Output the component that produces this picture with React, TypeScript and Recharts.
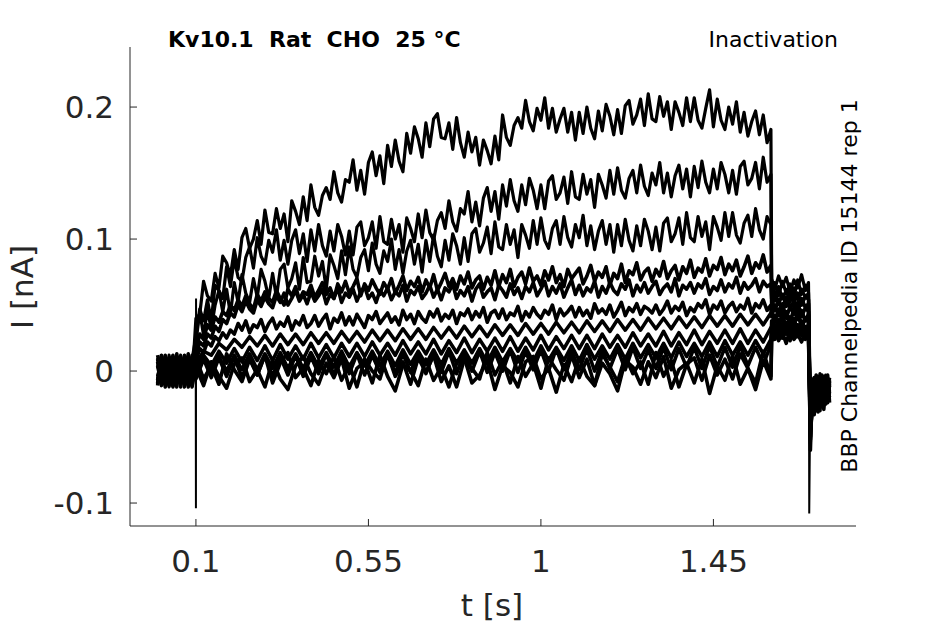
import { LineChart, Line, XAxis, YAxis } from 'recharts';

// time grids (s) for the parts of each sweep
const preT = [0, 0.01, 0.02, 0.03, 0.04, 0.05, 0.06, 0.07, 0.08, 0.09];
// fine grid for the six upper sweeps
const stepFineT = [
  0.1, 0.11, 0.12, 0.13, 0.14, 0.15, 0.16, 0.17, 0.18, 0.19,
  0.2, 0.21, 0.22, 0.23, 0.24, 0.25, 0.26, 0.27, 0.28, 0.29,
  0.3, 0.31, 0.32, 0.33, 0.34, 0.35, 0.36, 0.37, 0.38, 0.39,
  0.4, 0.41, 0.42, 0.43, 0.44, 0.45, 0.46, 0.47, 0.48, 0.49,
  0.5, 0.51, 0.52, 0.53, 0.54, 0.55, 0.56, 0.57, 0.58, 0.59,
  0.6, 0.61, 0.62, 0.63, 0.64, 0.65, 0.66, 0.67, 0.68, 0.69,
  0.7, 0.71, 0.72, 0.73, 0.74, 0.75, 0.76, 0.77, 0.78, 0.79,
  0.8, 0.81, 0.82, 0.83, 0.84, 0.85, 0.86, 0.87, 0.88, 0.89,
  0.9, 0.91, 0.92, 0.93, 0.94, 0.95, 0.96, 0.97, 0.98, 0.99,
  1.0, 1.01, 1.02, 1.03, 1.04, 1.05, 1.06, 1.07, 1.08, 1.09,
  1.1, 1.11, 1.12, 1.13, 1.14, 1.15, 1.16, 1.17, 1.18, 1.19,
  1.2, 1.21, 1.22, 1.23, 1.24, 1.25, 1.26, 1.27, 1.28, 1.29,
  1.3, 1.31, 1.32, 1.33, 1.34, 1.35, 1.36, 1.37, 1.38, 1.39,
  1.4, 1.41, 1.42, 1.43, 1.44, 1.45, 1.46, 1.47, 1.48, 1.49,
  1.5, 1.51, 1.52, 1.53, 1.54, 1.55, 1.56, 1.57, 1.58, 1.59,
  1.6,
];
// coarse grid for the six lower sweeps
const stepT = [
  0.1, 0.12, 0.14, 0.16, 0.18, 0.2, 0.22, 0.24, 0.26, 0.28,
  0.3, 0.32, 0.34, 0.36, 0.38, 0.4, 0.42, 0.44, 0.46, 0.48,
  0.5, 0.52, 0.54, 0.56, 0.58, 0.6, 0.62, 0.64, 0.66, 0.68,
  0.7, 0.72, 0.74, 0.76, 0.78, 0.8, 0.82, 0.84, 0.86, 0.88,
  0.9, 0.92, 0.94, 0.96, 0.98, 1.0, 1.02, 1.04, 1.06, 1.08,
  1.1, 1.12, 1.14, 1.16, 1.18, 1.2, 1.22, 1.24, 1.26, 1.28,
  1.3, 1.32, 1.34, 1.36, 1.38, 1.4, 1.42, 1.44, 1.46, 1.48,
  1.5, 1.52, 1.54, 1.56, 1.58, 1.6,
];
const tailT = [1.602, 1.61, 1.62, 1.63, 1.64, 1.65, 1.66, 1.67, 1.68, 1.69, 1.698];
const postT = [1.703, 1.708, 1.713, 1.718, 1.723, 1.728, 1.733, 1.738, 1.743, 1.748, 1.753];

// currents in pA; rows 0-5 are the upper sweeps, rows 6-11 the lower ones
const preI = [
  [5, -8, 9, -4, 11, -9, 6, -3, 10, -7],
  [-6, 8, -10, 12, -5, 7, -9, 4, -11, 9],
  [10, -5, 3, -12, 8, -6, 12, -8, 5, -4],
  [-9, 11, -4, 6, -10, 13, -7, 9, -3, 7],
  [7, -11, 12, -6, 4, -8, 9, -12, 11, -5],
  [-4, 6, -8, 10, -12, 5, -6, 11, -9, 12],
  [12, -3, 7, -9, 10, -4, 4, -10, 8, -11],
  [-11, 9, -6, 3, -7, 10, -12, 6, -5, 10],
  [4, -10, 11, -7, 6, -12, 10, -5, 13, -8],
  [-7, 12, -3, 8, -11, 3, -5, 12, -10, 6],
  [9, -6, 5, -11, 12, -7, 3, -9, 6, -12],
  [-10, 4, -12, 9, -3, 11, -8, 7, -12, 3],
];

const stepFineI = [
  [40, 43, 68, 57, 53, 74, 63, 87, 82, 72,
   92, 77, 101, 108, 93, 100, 114, 96, 122, 105,
   104, 123, 108, 119, 98, 129, 121, 111, 132, 114,
   141, 124, 118, 133, 139, 130, 151, 135, 128, 145,
   143, 160, 137, 152, 134, 158, 166, 148, 163, 142,
   171, 155, 175, 159, 151, 180, 165, 185, 176, 162,
   188, 170, 191, 195, 177, 176, 188, 168, 192, 173,
   162, 181, 166, 177, 156, 175, 167, 157, 178, 160,
   194, 177, 171, 186, 192, 184, 205, 189, 182, 199,
   190, 207, 184, 199, 181, 191, 199, 181, 196, 175,
   196, 180, 200, 184, 176, 197, 182, 202, 193, 179,
   198, 180, 201, 205, 187, 194, 206, 186, 210, 191,
   189, 208, 193, 204, 183, 204, 196, 186, 207, 189,
   207, 190, 184, 199, 213, 185, 206, 190, 183, 200,
   187, 204, 181, 196, 178, 189, 197, 179, 194, 173,
   183],
  [26, 47, 38, 54, 38, 65, 61, 55, 79, 64,
   85, 71, 68, 86, 94, 78, 101, 87, 81, 99,
   90, 107, 84, 99, 81, 99, 107, 89, 104, 83,
   107, 91, 111, 95, 87, 106, 91, 111, 102, 88,
   106, 88, 109, 113, 95, 101, 113, 93, 117, 98,
   96, 115, 100, 111, 90, 116, 108, 98, 119, 101,
   122, 105, 99, 114, 120, 108, 129, 113, 106, 123,
   119, 136, 113, 128, 110, 131, 139, 121, 136, 115,
   141, 125, 145, 129, 121, 141, 126, 146, 137, 123,
   141, 123, 144, 148, 130, 135, 147, 127, 151, 132,
   130, 149, 134, 145, 124, 149, 141, 131, 152, 134,
   154, 137, 131, 146, 152, 135, 156, 140, 133, 150,
   141, 158, 135, 150, 132, 148, 156, 138, 153, 132,
   155, 139, 159, 143, 135, 153, 138, 158, 149, 135,
   152, 134, 155, 159, 141, 146, 158, 138, 162, 143,
   149],
  [22, 45, 27, 46, 32, 50, 61, 45, 62, 43,
   67, 52, 73, 59, 52, 70, 56, 77, 68, 55,
   74, 56, 77, 81, 63, 70, 82, 62, 86, 67,
   68, 87, 72, 83, 62, 88, 80, 70, 91, 73,
   94, 77, 71, 86, 92, 76, 97, 81, 74, 91,
   83, 100, 77, 92, 74, 91, 99, 81, 96, 75,
   99, 83, 103, 87, 79, 99, 84, 104, 95, 81,
   101, 83, 104, 108, 90, 97, 109, 89, 113, 94,
   92, 111, 96, 107, 86, 111, 103, 93, 114, 96,
   116, 99, 93, 108, 114, 96, 117, 101, 94, 111,
   101, 118, 95, 110, 92, 106, 114, 96, 111, 90,
   111, 95, 115, 99, 91, 110, 95, 115, 106, 92,
   109, 91, 112, 116, 98, 104, 116, 96, 120, 101,
   98, 117, 102, 113, 92, 117, 109, 99, 120, 102,
   120, 103, 97, 112, 118, 102, 123, 107, 100, 117,
   111],
  [16, 28, 24, 35, 31, 41, 37, 45, 42, 50,
   46, 54, 49, 57, 51, 47, 58, 53, 60, 55,
   52, 61, 55, 50, 62, 57, 64, 54, 60, 58,
   65, 56, 61, 67, 58, 63, 55, 66, 60, 68,
   59, 64, 70, 57, 66, 61, 69, 63, 58, 67,
   62, 70, 59, 65, 72, 61, 68, 64, 71, 60,
   69, 63, 73, 61, 67, 74, 64, 70, 62, 72,
   66, 75, 63, 69, 72, 62, 71, 65, 76, 64,
   73, 67, 77, 64, 71, 75, 66, 78, 68, 72,
   65, 76, 69, 79, 67, 73, 64, 77, 70, 74,
   78, 66, 72, 80, 68, 75, 71, 79, 65, 74,
   70, 81, 67, 76, 73, 82, 69, 75, 78, 68,
   77, 72, 83, 70, 76, 80, 69, 79, 74, 84,
   71, 78, 75, 85, 72, 80, 77, 86, 73, 81,
   76, 84, 72, 79, 87, 74, 82, 78, 88, 75,
   80],
  [12, 22, 19, 28, 25, 34, 30, 39, 36, 44,
   41, 50, 45, 53, 47, 44, 54, 49, 56, 51,
   48, 57, 52, 59, 50, 55, 61, 53, 58, 51,
   60, 53, 57, 62, 51, 58, 55, 63, 52, 59,
   56, 62, 53, 60, 64, 55, 59, 52, 61, 57,
   63, 54, 60, 57, 65, 53, 61, 58, 64, 55,
   59, 65, 56, 62, 54, 63, 60, 66, 55, 61,
   57, 64, 53, 62, 66, 56, 60, 63, 54, 65,
   61, 56, 66, 58, 63, 55, 64, 60, 67, 57,
   62, 68, 57, 64, 59, 66, 56, 63, 69, 58,
   65, 57, 63, 60, 68, 56, 64, 59, 67, 61,
   58, 66, 62, 69, 57, 65, 60, 67, 59, 64,
   68, 58, 63, 66, 60, 70, 57, 65, 62, 67,
   59, 66, 63, 70, 58, 64, 61, 69, 60, 66,
   63, 71, 59, 67, 62, 65, 70, 60, 68, 64,
   66],
  [8, 17, 14, 22, 19, 26, 23, 29, 25, 31,
   28, 36, 31, 38, 29, 35, 33, 39, 30, 36,
   40, 32, 37, 34, 41, 31, 38, 35, 42, 33,
   36, 42, 34, 39, 43, 32, 40, 37, 44, 35,
   41, 35, 43, 38, 33, 42, 39, 45, 36, 40,
   44, 37, 41, 35, 46, 39, 43, 36, 45, 40,
   37, 45, 41, 47, 38, 43, 40, 46, 36, 44,
   42, 47, 39, 45, 41, 48, 37, 44, 46, 40,
   47, 39, 44, 42, 49, 38, 45, 41, 48, 43,
   40, 46, 43, 50, 39, 47, 42, 45, 49, 41,
   48, 42, 46, 40, 51, 44, 47, 43, 50, 41,
   46, 52, 42, 48, 45, 51, 43, 49, 47, 44,
   50, 43, 47, 53, 44, 49, 46, 52, 42, 48,
   45, 51, 48, 54, 43, 50, 47, 53, 44, 49,
   52, 45, 50, 47, 55, 44, 51, 48, 54, 46,
   50],
];

const stepI = [
  [6, 15, 12, 21, 16, 24, 18, 26, 19, 27,
   19, 28, 20, 28, 20, 29, 21, 29, 21, 30,
   22, 30, 22, 31, 23, 31, 23, 32, 24, 32,
   24, 33, 25, 33, 25, 34, 26, 34, 26, 35,
   27, 35, 27, 36, 28, 36, 28, 37, 29, 37,
   29, 38, 30, 38, 30, 39, 31, 39, 31, 40,
   32, 40, 32, 41, 33, 41, 33, 42, 34, 42,
   34, 43, 35, 43, 35, 44],
  [2, 12, 4, 15, 6, 17, 7, 18, 8, 19,
   8, 20, 9, 19, 9, 21, 10, 20, 10, 21,
   11, 21, 11, 22, 12, 21, 12, 23, 13, 22,
   13, 24, 13, 23, 14, 25, 14, 24, 15, 25,
   15, 26, 15, 25, 16, 27, 16, 26, 17, 27,
   17, 27, 17, 28, 18, 27, 18, 29, 19, 28,
   19, 30, 19, 29, 20, 31, 20, 30, 21, 31,
   21, 32, 21, 31, 22, 33],
  [-3, 9, -1, 11, 0, 12, 1, 13, 1, 13,
   2, 14, 2, 13, 2, 14, 3, 14, 3, 15,
   3, 14, 4, 15, 4, 15, 4, 16, 5, 15,
   5, 16, 5, 17, 6, 16, 6, 17, 6, 18,
   7, 17, 7, 18, 7, 19, 8, 18, 8, 19,
   8, 20, 9, 19, 9, 20, 9, 21, 10, 20,
   10, 21, 10, 22, 11, 21, 11, 22, 11, 23,
   12, 22, 12, 23, 13, 24],
  [-6, 9, -5, 10, -4, 11, -5, 10, -3, 12,
   -4, 11, -3, 12, -4, 11, -2, 13, -3, 12,
   -2, 13, -3, 12, -1, 14, -2, 13, -1, 14,
   -2, 13, -1, 15, -2, 14, 0, 15, -1, 14,
   0, 16, -1, 15, 1, 16, 0, 17, 1, 15,
   1, 17, 0, 16, 2, 17, 1, 18, 2, 16,
   2, 18, 1, 17, 3, 18, 2, 19, 3, 18,
   3, 19, 4, 18, 5, 20],
  [10, -6, 4, -10, 13, 1, -8, 9, -3, 12,
   -9, 6, 14, -5, 2, -11, 8, -2, 11, -7,
   5, -12, 9, 0, -6, 13, -4, 7, -10, 10,
   -1, 12, -8, 4, -12, 9, 2, -6, 14, -3,
   8, -9, 11, -4, 6, -13, 10, 1, -7, 12,
   -5, 9, -11, 13, 3, -8, 11, -2, 7, -10,
   14, -4, 8, -12, 5, 10, -7, 12, -3, 9,
   -6, 13, 2, -9, 15, -4],
  [3, -11, 7, -4, -13, 5, 10, -8, 1, -12,
   8, -6, -14, 4, 11, -2, -10, 6, -5, 9,
   -13, 2, 7, -9, 12, -4, -15, 5, 0, -11,
   9, -7, 3, -12, 6, 10, -9, -3, 8, -14,
   4, -1, -12, 7, 11, -6, 2, -16, 5, -8,
   10, -4, -11, 6, -2, -15, 8, 3, -10, 7,
   -5, 11, -13, 1, 6, -9, 9, -17, 4, -7,
   12, -10, 2, -14, 8, -6],
];

const tailI = [
  [70, 62, 72, 64, 71, 60, 69, 63, 73, 61, 67],
  [58, 67, 57, 68, 59, 66, 56, 69, 58, 65, 60],
  [62, 53, 64, 55, 61, 52, 63, 54, 62, 56, 59],
  [50, 60, 51, 58, 49, 61, 52, 59, 50, 57, 54],
  [55, 46, 54, 44, 56, 47, 53, 45, 55, 48, 51],
  [41, 50, 42, 51, 40, 49, 43, 52, 41, 48, 45],
  [46, 37, 47, 38, 45, 36, 48, 39, 46, 38, 43],
  [33, 42, 34, 43, 32, 41, 35, 44, 33, 40, 37],
  [38, 30, 39, 29, 37, 31, 40, 30, 38, 32, 35],
  [27, 35, 26, 36, 28, 34, 25, 35, 27, 33, 30],
  [32, 24, 33, 25, 31, 23, 34, 26, 32, 24, 29],
  [22, 30, 23, 29, 21, 31, 24, 28, 22, 30, 25],
];

const postI = [
  [-48, -10, -30, -5, -25, -8, -22, -4, -20, -9, -18],
  [-40, -28, -8, -26, -6, -24, -10, -21, -3, -19, -12],
  [-55, -6, -32, -12, -27, -2, -23, -14, -19, -5, -16],
  [-35, -20, -12, -30, -9, -20, -4, -24, -11, -17, -7],
  [-50, -15, -26, -3, -29, -11, -18, -6, -25, -13, -20],
  [-42, -32, -5, -22, -14, -26, -7, -19, -9, -22, -10],
  [-60, -12, -20, -9, -31, -5, -27, -12, -16, -3, -24],
  [-38, -25, -15, -28, -4, -17, -12, -26, -6, -18, -14],
  [-45, -8, -33, -10, -21, -16, -3, -20, -13, -24, -8],
  [-52, -22, -10, -24, -12, -30, -9, -15, -21, -7, -17],
  [-36, -30, -18, -6, -26, -8, -21, -10, -4, -19, -11],
  [-44, -14, -27, -16, -8, -23, -15, -29, -11, -14, -5],
];

// switching artifacts at step onset and at the end of the test pulse
const onsetT = [0.0995, 0.1, 0.1003, 0.1006];
const onsetI = [3, -104, 55, 20];
const offsetT = [1.699, 1.7, 1.7015, 1.703];
const offsetI = [45, -108, -60, -40];

const xTicks = [0.1, 0.55, 1, 1.45];
const xTickLabels = ['0.1', '0.55', '1', '1.45'];
const yTicks = [-100, 0, 100, 200];
const yTickLabels = ['-0.1', '0', '0.1', '0.2'];

const FONT = '"DejaVu Sans", sans-serif';
const INK = '#262626';

const zip = (ts: number[], vs: number[]) => ts.map((t, k) => ({ t, i: vs[k] }));

const sweeps = preI.map((_, s) => [
  ...zip(preT, preI[s]),
  ...(s < stepFineI.length
    ? zip(stepFineT, stepFineI[s])
    : zip(stepT, stepI[s - stepFineI.length])),
  ...zip(tailT, tailI[s]),
  ...zip(postT, postI[s]),
]);
const artifacts = [zip(onsetT, onsetI), zip(offsetT, offsetI)];

const XTick = ({ x, y, payload }: any) => (
  <g>
    <line x1={x} y1={y} x2={x} y2={y - 7} stroke={INK} strokeWidth={1} />
    <text x={x} y={y + 46} textAnchor="middle" fontSize={31} fill={INK} fontFamily={FONT}>
      {xTickLabels[xTicks.indexOf(payload.value)]}
    </text>
  </g>
);

const YTick = ({ x, y, payload }: any) => (
  <g>
    <line x1={x} y1={y} x2={x + 7} y2={y} stroke={INK} strokeWidth={1} />
    <text x={x - 16} y={y + 11} textAnchor="end" fontSize={31} fill={INK} fontFamily={FONT}>
      {yTickLabels[yTicks.indexOf(payload.value)]}
    </text>
  </g>
);

export default function App() {
  return (
    <div style={{ position: 'absolute', left: 0, top: 0, width: 945, height: 624, background: '#fff' }}>
      <LineChart width={945} height={624} margin={{ top: 47, right: 89, bottom: 68, left: 70 }}>
        <XAxis
          dataKey="t"
          type="number"
          domain={[-0.072, 1.822]}
          ticks={xTicks}
          tick={<XTick />}
          tickLine={false}
          tickSize={0}
          tickMargin={0}
          height={30}
          axisLine={{ stroke: INK }}
          allowDataOverflow
        />
        <YAxis
          type="number"
          domain={[-117.4, 245.5]}
          ticks={yTicks}
          tick={<YTick />}
          tickLine={false}
          tickSize={0}
          tickMargin={0}
          width={60}
          axisLine={{ stroke: INK }}
          allowDataOverflow
        />
        {sweeps.map((d, s) => (
          <Line
            key={`sweep-${s}`}
            data={d}
            dataKey="i"
            type="linear"
            stroke="#000"
            strokeWidth={s < 3 ? 3.2 : 3.6}
            strokeLinejoin="round"
            dot={false}
            activeDot={false}
            isAnimationActive={false}
          />
        ))}
        {artifacts.map((d, s) => (
          <Line
            key={`artifact-${s}`}
            data={d}
            dataKey="i"
            type="linear"
            stroke="#000"
            strokeWidth={2}
            dot={false}
            activeDot={false}
            isAnimationActive={false}
          />
        ))}
      </LineChart>
      <svg
        width={945}
        height={624}
        style={{ position: 'absolute', left: 0, top: 0, pointerEvents: 'none' }}
      >
        <text x={168} y={47} fontSize={22} fontWeight="bold" fill="#000" fontFamily={FONT} style={{ whiteSpace: 'pre' }}>
          {'Kv10.1  Rat  CHO  25 °C'}
        </text>
        <text x={838} y={47} fontSize={22} textAnchor="end" fill="#000" fontFamily={FONT}>
          Inactivation
        </text>
        <text
          x={857}
          y={286}
          fontSize={22}
          textAnchor="middle"
          fill="#000"
          fontFamily={FONT}
          transform="rotate(-90 857 286)"
        >
          BBP Channelpedia ID 15144 rep 1
        </text>
        <text
          x={33}
          y={287}
          fontSize={31}
          textAnchor="middle"
          fill={INK}
          fontFamily={FONT}
          transform="rotate(-90 33 287)"
        >
          I [nA]
        </text>
        <text x={492} y={616} fontSize={31} textAnchor="middle" fill={INK} fontFamily={FONT}>
          t [s]
        </text>
      </svg>
    </div>
  );
}
